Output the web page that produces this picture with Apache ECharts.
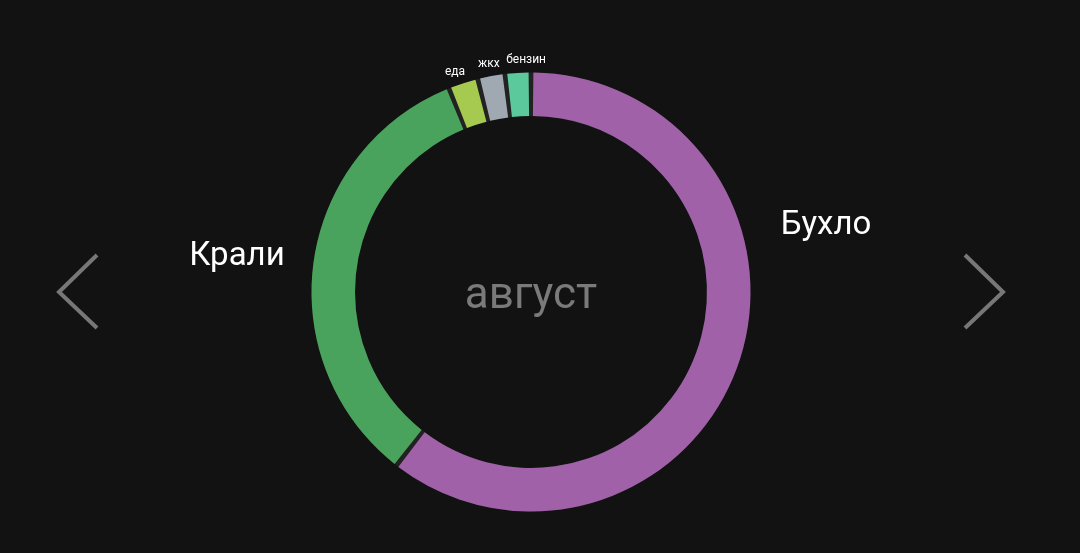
<!DOCTYPE html>
<html>
<head>
<meta charset="utf-8">
<style>
html,body{margin:0;padding:0;background:#121212;}
#c{width:1080px;height:553px;}
</style>
<script src="https://cdn.jsdelivr.net/npm/echarts@6/dist/echarts.min.js"></script>
</head>
<body>
<div id="c"></div>
<script>
const categories = ['Бухло', 'Крали', 'еда', 'жкх', 'бензин'];
const values = [60.5, 33.4, 2.2, 2.0, 1.9];
const colors = ['#a061a9', '#4aa35c', '#a6ca50', '#a0a8b1', '#5bc99c'];
const monthLabel = 'август';

const CX = 531, CY = 292, R_IN = 176, R_OUT = 219.5;
const total = values.reduce((a, b) => a + b, 0);
const midAngles = [];
let acc = 0;
values.forEach(v => { midAngles.push((acc + v / 2) / total * 2 * Math.PI); acc += v; });

// big labels placement (offsets from centre); small labels go radially with a small nudge
const bigLabelPos = { 0: [295, -66], 1: [-294, -35] };
const smallNudge = { 2: [-4, 2], 3: [0, 1], 4: [9, 1] };

const chart = echarts.init(document.getElementById('c'));
chart.setOption({
  backgroundColor: '#121212',
  animation: false,
  series: [{
    type: 'pie', silent: true, z: 1,
    center: [CX, CY], radius: [R_IN, R_OUT],
    label: { show: false }, labelLine: { show: false },
    itemStyle: { color: '#222222' },
    data: [{ name: '', value: 1 }]
  }, {
    type: 'pie', z: 2,
    center: [CX, CY],
    radius: [R_IN, R_OUT],
    startAngle: 90,
    clockwise: true,
    padAngle: 1.25,
    avoidLabelOverlap: false,
    minShowLabelAngle: 0,
    label: {
      show: true, position: 'outside', formatter: '{b}',
      color: '#ffffff', fontFamily: 'Roboto, Arial, sans-serif', fontSize: 12
    },
    labelLine: { show: false },
    emphasis: { disabled: true },
    labelLayout: function (p) {
      const i = p.dataIndex;
      if (bigLabelPos[i]) {
        return { x: CX + bigLabelPos[i][0], y: CY + bigLabelPos[i][1], align: 'center', verticalAlign: 'middle' };
      }
      const a = midAngles[i], r = 233, n = smallNudge[i] || [0, 0];
      return { x: CX + Math.sin(a) * r + n[0], y: CY - Math.cos(a) * r + n[1], align: 'center', verticalAlign: 'middle' };
    },
    data: categories.map((n, i) => ({
      name: n, value: values[i],
      itemStyle: { color: colors[i] },
      label: i < 2 ? { fontSize: 33 } : {}
    }))
  }],
  graphic: [
    { type: 'text', silent: true,
      style: { x: CX, y: CY + 5, text: monthLabel, fill: '#7a7a7a', font: '44px Roboto', textAlign: 'center', textVerticalAlign: 'middle' } },
    { type: 'polyline', silent: true,
      shape: { points: [[97, 255], [59, 292], [97, 328]] },
      style: { stroke: '#777', lineWidth: 4, fill: null } },
    { type: 'polyline', silent: true,
      shape: { points: [[965, 255], [1003, 292], [965, 328]] },
      style: { stroke: '#777', lineWidth: 4, fill: null } }
  ]
});
</script>
</body>
</html>
